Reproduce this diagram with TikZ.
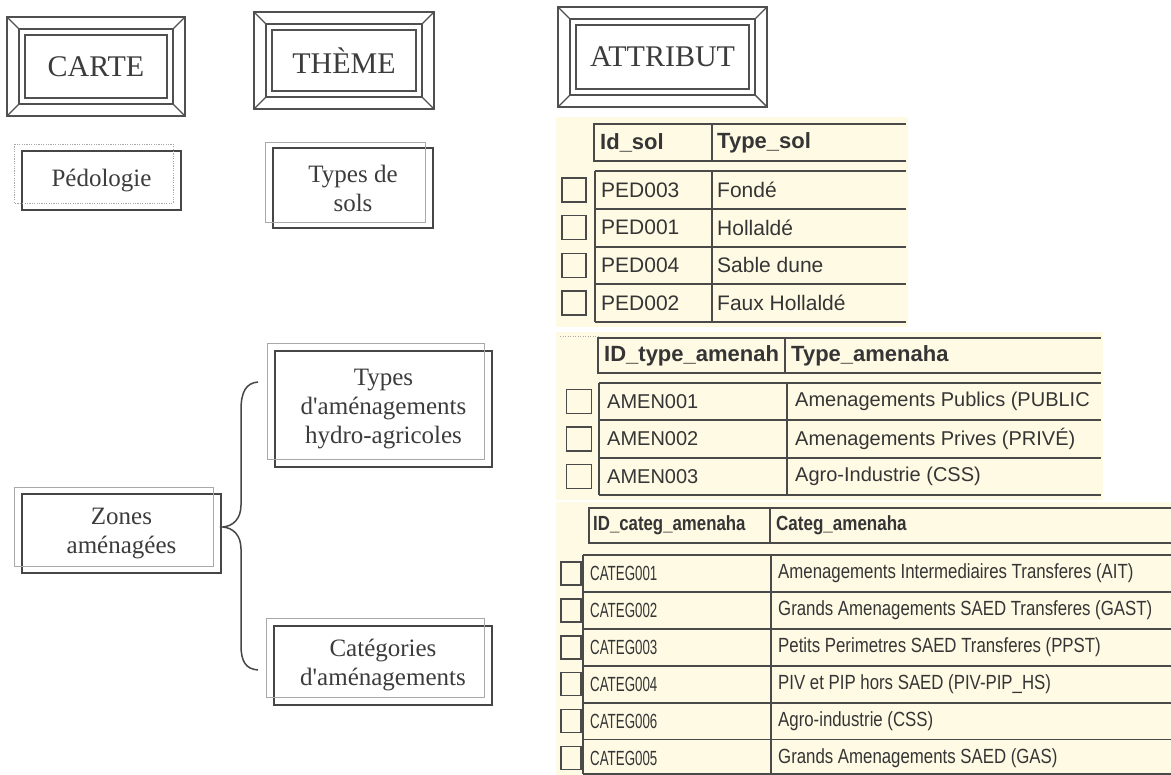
\documentclass[tikz,border=0pt]{standalone}
\usepackage{fontspec}
\usepackage{graphicx}
\setmainfont{Liberation Serif}
\newfontfamily\arialf{Liberation Sans}
\definecolor{framecol}{HTML}{505050}
\definecolor{darkbox}{HTML}{464646}
\definecolor{lightbox}{HTML}{A8A8A8}
\definecolor{txt}{HTML}{3C3C3C}
\definecolor{cream}{HTML}{FFFAE4}
\definecolor{tabline}{HTML}{4A4A4A}
\definecolor{tabtext}{HTML}{353535}
\newcommand\apos{\textquotesingle}
\tikzset{
  frame/.style={draw=framecol, line width=1.4pt},
  titlebox/.style={draw=framecol, line width=1.4pt, inner sep=0pt, outer sep=0pt, text=txt, font=\fontsize{30}{30}\selectfont},
  darkrect/.style={draw=darkbox, line width=1.8pt, inner sep=0pt, outer sep=0pt, align=center, text=txt, font=\fontsize{25}{29}\selectfont},
  lightrect/.style={draw=lightbox, line width=0.9pt},
  dotrect/.style={draw=lightbox, line width=0.9pt, dash pattern=on 1.2pt off 1.2pt},
  brace/.style={draw=darkbox, line width=1.5pt},
  tline/.style={draw=tabline, line width=1.8pt},
  cbox/.style={draw=tabline, line width=1.6pt, fill=cream, inner sep=0pt, outer sep=0pt},
  cellA/.style={anchor=west, inner sep=0pt, text=tabtext, font=\arialf\fontsize{21}{21}\selectfont},
  cellB/.style={anchor=west, inner sep=0pt, text=tabtext, font=\arialf\fontsize{20}{20}\selectfont},
  cellC/.style={anchor=west, inner sep=0pt, text=tabtext, font=\arialf\fontsize{20.5}{20.5}\selectfont},
  hdr/.style={anchor=west, inner sep=0pt, text=tabtext, font=\arialf\bfseries\fontsize{22}{22}\selectfont},
  hdrC/.style={anchor=west, inner sep=0pt, text=tabtext, font=\arialf\bfseries\fontsize{20.5}{20.5}\selectfont},
}
\newcommand\bevelbox[6]{%
  \draw[frame] (#2,#3) rectangle (#4,#5);
  \draw[frame] (#2+12,#3+12) rectangle (#4-12,#5-12);
  \draw[frame] (#2,#3) -- (#2+12,#3+12) (#4,#3) -- (#4-12,#3+12)
               (#2,#5) -- (#2+12,#5-12) (#4,#5) -- (#4-12,#5-12);
  \node[titlebox, minimum width={(#4-#2-36)*1pt}, minimum height={(#5-#3-36)*1pt}] (#1) at ({(#2+#4)/2},{(#3+#5)/2}) {#6};
}
\newcommand\pairbox[6]{% name, cx, cy, w, h, text
  \node[darkrect, minimum width=#4pt, minimum height=#5pt] (#1) at (#2,#3) {#6};
}
\begin{document}
\begin{tikzpicture}[x=1pt,y=-1pt]
\useasboundingbox[fill=white] (0,0) rectangle (1171,775);

% ---- title boxes
\bevelbox{carte}{7}{17}{185}{116}{CARTE}
\bevelbox{theme}{254}{12}{434}{109}{THÈME}
\bevelbox{attr}{558}{7}{767}{107}{ATTRIBUT}

% ---- label boxes
\pairbox{ped}{101.5}{180.5}{159}{59}{Pédologie}
\draw[dotrect] ([shift={(-8,-7)}]ped.north west) rectangle ([shift={(-8,-7)}]ped.south east);
\pairbox{sols}{353}{188}{160}{80}{Types de\\ sols}
\draw[lightrect] ([shift={(-8,-6)}]sols.north west) rectangle ([shift={(-8,-6)}]sols.south east);
\pairbox{typam}{383.5}{409}{217}{116}{Types\\ d\apos aménagements\\ hydro-agricoles}
\draw[lightrect] ([shift={(-8,-8)}]typam.north west) rectangle ([shift={(-8,-8)}]typam.south east);
\pairbox{zones}{121.5}{533.5}{199}{79}{Zones\\ aménagées}
\draw[lightrect] ([shift={(-8,-7)}]zones.north west) rectangle ([shift={(-8,-7)}]zones.south east);
\pairbox{categ}{383}{665.5}{218}{79}{Catégories\\ d\apos aménagements}
\draw[lightrect] ([shift={(-8,-8)}]categ.north west) rectangle ([shift={(-8,-8)}]categ.south east);

% ---- brace
\coordinate (bt) at (258,382);
\coordinate (bb) at (258,670);
\coordinate (btip) at (223,527);
\draw[brace] (bt) .. controls (246,383) and (241,392) .. (241,410) -- (241,505)
  .. controls (241,519) and (233,526) .. (btip)
  .. controls (233,528) and (241,535) .. (241,549) -- (241,645)
  .. controls (241,662) and (246,669) .. (bb);

% ---- table 1
\fill[cream] (556,117) rectangle (908,327);
\draw[tline] (906,124) -- (594,124) -- (594,161) -- (906,161);
\draw[tline] (712,124) -- (712,161);
\node[hdr] (h1a) at (600,142.5) {Id\_sol};
\node[hdr] (h1b) at (717,142.5) {Type\_sol};
\draw[tline] (595,171) -- (906,171);
\foreach \yy in {209,247,284,322} \draw[tline] (595,\yy) -- (906,\yy);
\draw[tline] (595,171) -- (595,322);
\draw[tline] (712,171) -- (712,322);
\foreach \a/\b [count=\i] in {PED003/Fondé,PED001/Hollaldé,PED004/Sable dune,PED002/Faux Hollaldé}{
  \pgfmathsetmacro\yc{171+37.75*(\i-0.5)}
  \node[cbox, minimum width=24pt, minimum height=24pt] (ka\i) at (574,\yc) {};
  \node[cellA] (ta\i) at (601,\yc) {\a};
  \node[cellA] (tb\i) at (717,\yc) {\b};
}

% ---- table 2
\fill[cream] (556,332) rectangle (1103,500);
\draw[lightbox, line width=0.8pt, dash pattern=on 1pt off 1.5pt] (560,336) -- (598,336);
\draw[tline] (1101,338) -- (598,338) -- (598,373) -- (1101,373);
\draw[tline] (785,338) -- (785,373);
\node[hdr] (h2a) at (604,356) {ID\_type\_amenah};
\node[hdr] (h2b) at (791,356) {Type\_amenaha};
\draw[tline] (599,383) -- (1101,383);
\foreach \yy in {420.3,457.7,495} \draw[tline] (599,\yy) -- (1101,\yy);
\draw[tline] (599,383) -- (599,495);
\draw[tline] (787,383) -- (787,495);
\foreach \a/\b [count=\i] in {AMEN001/Amenagements Publics (PUBLIC,AMEN002/Amenagements Prives (PRIVÉ),AMEN003/Agro-Industrie (CSS)}{
  \pgfmathsetmacro\yc{383+37.33*(\i-0.5)}
  \node[cbox, minimum width=25pt, minimum height=24pt] (kb\i) at (579,\yc) {};
  \node[cellB] (ua\i) at (607,\yc) {\a};
  \node[cellB] (ub\i) at (795,\yc) {\b};
}

% ---- table 3
\fill[cream] (556,502) rectangle (1171,775);
\draw[tline] (1171,508) -- (589,508) -- (589,543) -- (1171,543);
\draw[tline] (770,508) -- (770,543);
\node[hdrC] (h3a) at (593,525.5) {\scalebox{0.82}[1]{ID\_categ\_amenaha}};
\node[hdrC] (h3b) at (776,525.5) {\scalebox{0.83}[1]{Categ\_amenaha}};
\draw[tline] (583,555) -- (1171,555);
\foreach \yy in {591.9,628.8,665.7,702.6,739.5,774} \draw[tline] (583,\yy) -- (1171,\yy);
\draw[tline] (583,555) -- (583,774);
\draw[tline] (771,555) -- (771,774);
\foreach \a/\b [count=\i] in {CATEG001/Amenagements Intermediaires Transferes (AIT),CATEG002/Grands Amenagements SAED Transferes (GAST),CATEG003/Petits Perimetres SAED Transferes (PPST),CATEG004/PIV et PIP hors SAED (PIV-PIP\_HS),CATEG006/Agro-industrie (CSS),CATEG005/Grands Amenagements SAED (GAS)}{
  \pgfmathsetmacro\yc{555+36.9*(\i-0.5)}
  \node[cbox, minimum width=20pt, minimum height=23pt] (kc\i) at (571,\yc) {};
  \node[cellC] (va\i) at (590,\yc) {\scalebox{0.65}[1]{\a}};
  \node[cellC] (vb\i) at (778,\yc) {\scalebox{0.82}[1]{\b}};
}
\end{tikzpicture}
\end{document}
